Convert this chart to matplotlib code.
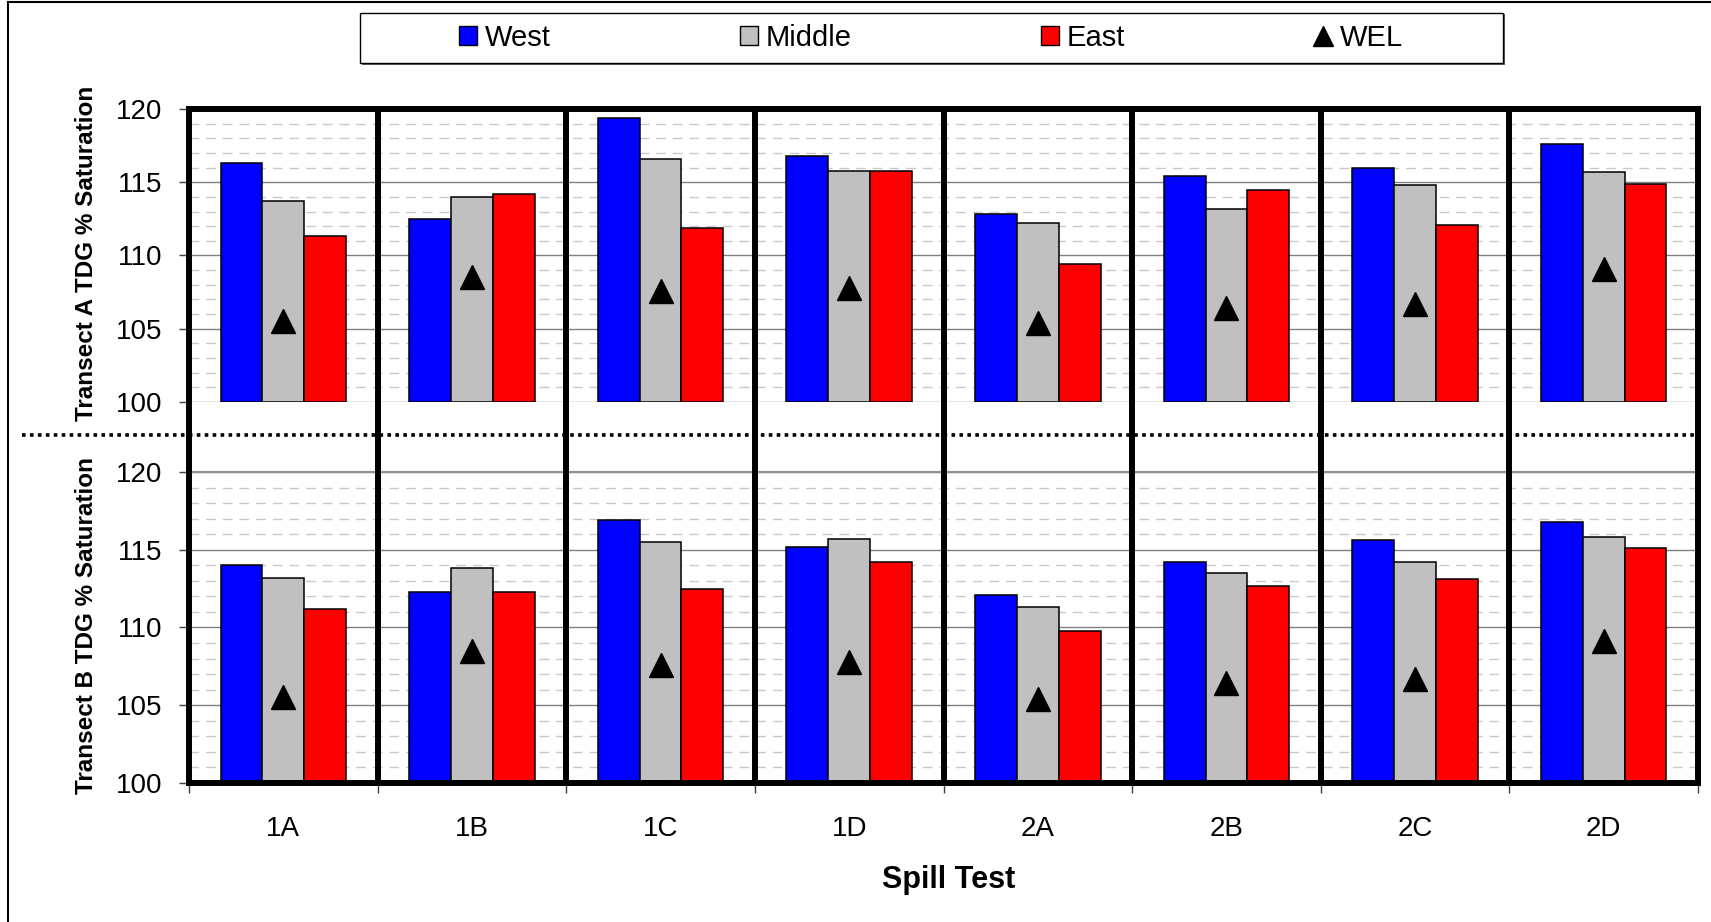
import matplotlib
matplotlib.use("Agg")
import matplotlib.pyplot as plt
from matplotlib.ticker import MultipleLocator, FixedLocator, NullFormatter, FixedFormatter
from matplotlib.transforms import blended_transform_factory
from matplotlib.patches import Rectangle, Patch
from matplotlib.lines import Line2D
import numpy as np

plt.rcParams['font.family'] = ['Liberation Sans', 'DejaVu Sans']

# ---- data ----
tests = ['1A', '1B', '1C', '1D', '2A', '2B', '2C', '2D']
series_names = ['West', 'Middle', 'East']
a_west = [116.3, 112.5, 119.4, 116.8, 112.8, 115.4, 116.0, 117.6]
a_middle = [113.7, 114.0, 116.6, 115.8, 112.2, 113.2, 114.8, 115.7]
a_east = [111.3, 114.2, 111.9, 115.8, 109.4, 114.5, 112.1, 114.9]
b_west = [114.0, 112.3, 116.9, 115.2, 112.1, 114.2, 115.6, 116.8]
b_middle = [113.2, 113.8, 115.5, 115.7, 111.3, 113.5, 114.2, 115.8]
b_east = [111.2, 112.3, 112.5, 114.2, 109.8, 112.7, 113.1, 115.1]
wel = [105.5, 108.5, 107.6, 107.8, 105.4, 106.4, 106.7, 109.1]
y_min, y_max = 100, 120

colors = ['#0000FF', '#C0C0C0', '#FF0000']

W, H = 1711, 922
fig = plt.figure(figsize=(W / 100, H / 100), dpi=100)


def rect(l, t, r, b):
    return [l / W, 1 - b / H, (r - l) / W, (b - t) / H]


def fy(y):
    return 1 - y / H


ax1 = fig.add_axes(rect(189, 109, 1698, 402))
ax2 = fig.add_axes(rect(189, 472, 1698, 783))

x = np.arange(len(tests))
bw = 0.222

for ax, vals, ylab in [(ax1, [a_west, a_middle, a_east], 'Transect A TDG % Saturation'),
                       (ax2, [b_west, b_middle, b_east], 'Transect B TDG % Saturation')]:
    ax.set_axisbelow(True)
    for k, (v, c) in enumerate(zip(vals, colors)):
        v = np.asarray(v)
        ax.bar(x + (k - 1) * bw, v - y_min, bottom=y_min, width=bw, color=c,
               edgecolor='black', linewidth=1.1, zorder=2)
    ax.plot(x, wel, linestyle='none', marker='^', markersize=17, color='black', zorder=3)
    ax.set_xlim(-0.5, len(tests) - 0.5)
    ax.set_ylim(y_min, y_max)
    ax.yaxis.set_major_locator(MultipleLocator(5))
    ax.yaxis.set_minor_locator(MultipleLocator(1))
    ax.grid(True, which='major', axis='y', color='#808080', linewidth=1.0)
    ax.grid(True, which='minor', axis='y', color='#C8C8C8', linewidth=1.0,
            linestyle=(0, (7, 5)))
    ax.tick_params(axis='y', which='major', labelsize=20, length=7, width=1,
                   color='#404040', pad=12)
    ax.tick_params(axis='y', which='minor', length=0)
    for s in ['left', 'right', 'top', 'bottom']:
        ax.spines[s].set_visible(False)

# top panel: thick top border, no x ticks
ax1.tick_params(axis='x', which='both', bottom=False, labelbottom=False)
ax1.spines['top'].set_visible(True)
ax1.spines['top'].set_linewidth(4.3)
ax1.spines['top'].set_color('black')

# bottom panel: thick bottom border, ticks between categories
ax2.spines['bottom'].set_visible(True)
ax2.spines['bottom'].set_linewidth(4.3)
ax2.spines['bottom'].set_color('black')
ax2.spines['top'].set_visible(True)
ax2.spines['top'].set_linewidth(1.5)
ax2.spines['top'].set_color('#909090')
ax2.xaxis.set_major_locator(FixedLocator(np.arange(len(tests) + 1) - 0.5))
ax2.xaxis.set_major_formatter(NullFormatter())
ax2.xaxis.set_minor_locator(FixedLocator(x))
ax2.xaxis.set_minor_formatter(FixedFormatter(tests))
ax2.tick_params(axis='x', which='major', length=7, width=1, color='#404040')
ax2.tick_params(axis='x', which='minor', length=0, labelsize=20, pad=24)

# thick vertical separators across both panels
tr = blended_transform_factory(ax2.transData, fig.transFigure)
for b in np.arange(len(tests) + 1) - 0.5:
    fig.add_artist(Line2D([b, b], [fy(786), fy(106)], transform=tr,
                          color='black', linewidth=4.3, solid_capstyle='butt'))

# dotted divider between panels
fig.add_artist(Line2D([22 / W, 1700 / W], [fy(435), fy(435)], transform=fig.transFigure,
                      color='black', linewidth=2.6, linestyle=(0, (1, 1.2))))

# axis labels
fig.text(87 / W, fy(253), 'Transect A TDG % Saturation', rotation=90, ha='center',
         va='center', fontsize=17.5, fontweight='bold')
fig.text(87 / W, fy(625), 'Transect B TDG % Saturation', rotation=90, ha='center',
         va='center', fontsize=17.5, fontweight='bold')
fig.text(949 / W, fy(888), 'Spill Test', ha='center', va='baseline',
         fontsize=22, fontweight='bold')

# outer frame (left and top edges)
fig.add_artist(Line2D([8 / W, 8 / W], [0, fy(2)], transform=fig.transFigure,
                      color='black', linewidth=1.5))
fig.add_artist(Line2D([8 / W, 1], [fy(2), fy(2)], transform=fig.transFigure,
                      color='black', linewidth=1.5))

# legend box
fig.add_artist(Rectangle((362 / W, fy(65)), (1503 - 360) / W, (65 - 14) / H,
                         transform=fig.transFigure, facecolor='#606060',
                         edgecolor='none'))
fig.add_artist(Rectangle((360 / W, fy(63)), (1503 - 360) / W, (63 - 13) / H,
                         transform=fig.transFigure, facecolor='white',
                         edgecolor='black', linewidth=1.0))
handles = [Patch(facecolor=c, edgecolor='black', linewidth=1.0) for c in colors]
handles.append(Line2D([], [], linestyle='none', marker='^', markersize=14, color='black'))
leg = fig.legend(handles, series_names + ['WEL'], loc='center',
                 bbox_to_anchor=(931 / W, fy(38)), ncol=4, frameon=False,
                 fontsize=21, handlelength=0.62, handleheight=0.62,
                 handletextpad=0.25, columnspacing=6.5, borderpad=0)

fig.savefig('out.png', dpi=100)
